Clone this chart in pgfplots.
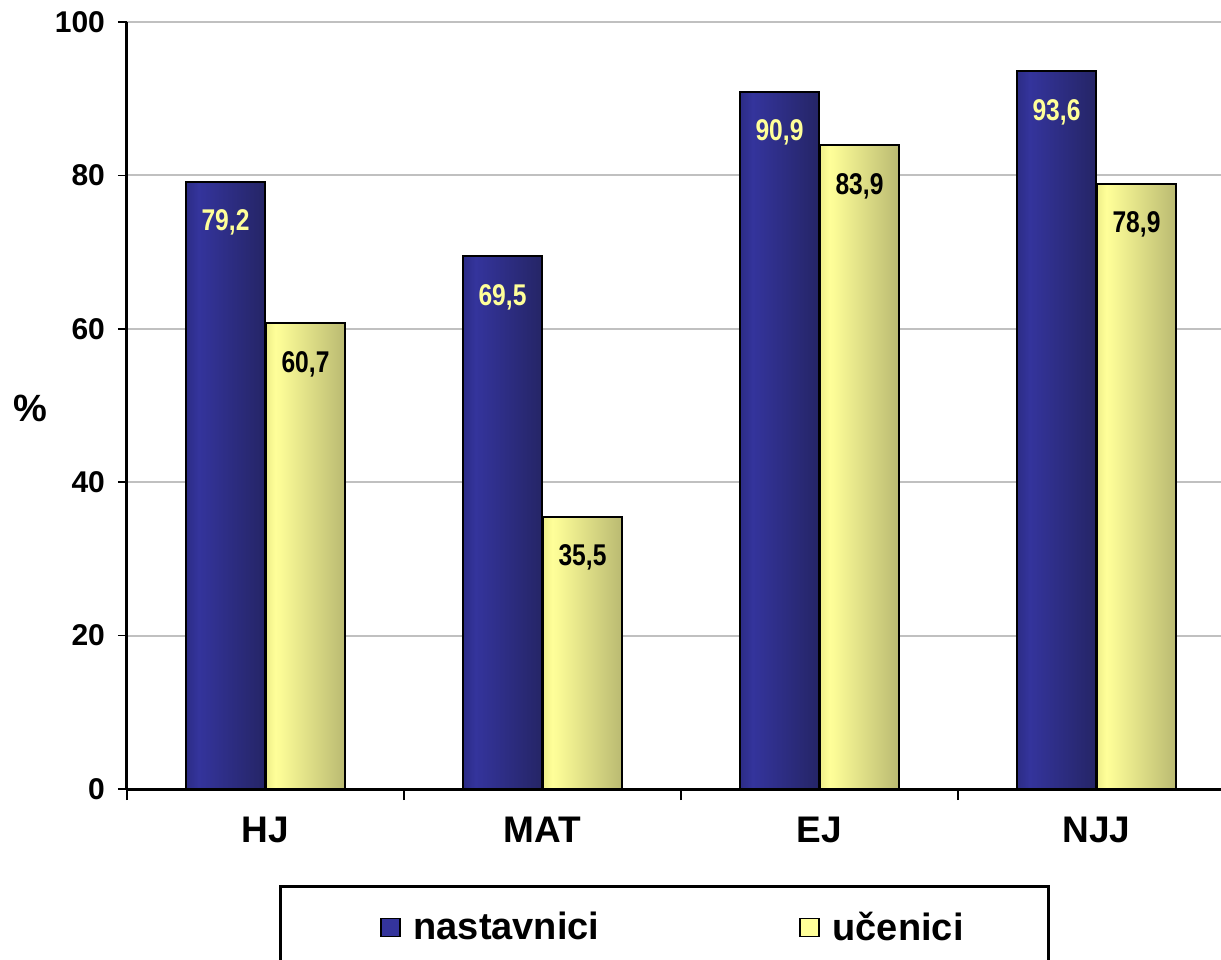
\documentclass[border=0pt]{standalone}
\usepackage{fontspec}
\setmainfont{Liberation Sans}
\newfontfamily\narrowfont{Liberation Sans}[FakeStretch=0.82]
\usepackage{pgfplots}
\pgfplotsset{compat=1.18}
\definecolor{navyA}{HTML}{2C2C86}
\definecolor{navyB}{HTML}{34349C}
\definecolor{navyC}{HTML}{252566}
\definecolor{yelA}{HTML}{EEEE8A}
\definecolor{yelB}{HTML}{FFFF99}
\definecolor{yelC}{HTML}{BABA72}
\definecolor{gridgray}{HTML}{C0C0C0}
\pgfdeclarehorizontalshading{navyshade}{100bp}{color(0bp)=(navyA); color(25bp)=(navyA); color(33bp)=(navyB); color(75bp)=(navyC); color(100bp)=(navyC)}
\pgfdeclarehorizontalshading{yelshade}{100bp}{color(0bp)=(yelA); color(25bp)=(yelA); color(31bp)=(yelB); color(75bp)=(yelC); color(100bp)=(yelC)}
\pgfplotsset{
  barlabel/.style={nodes near coords={\pgfmathprintnumber[use comma,fixed,fixed zerofill,precision=1]{\pgfplotspointmeta}},
    every node near coord/.append style={anchor=center, yshift=-20.5pt, font=\narrowfont\fontsize{15}{18}\selectfont\bfseries}},
  navybar/.style={forget plot, ybar, bar width=39.5pt, bar shift=-20pt, draw=black, line width=1pt, shading=navyshade,
    barlabel, every node near coord/.append style={xshift=-20pt, text=yelB}},
  yelbar/.style={forget plot, ybar, bar width=39.5pt, bar shift=20pt, draw=black, line width=1pt, shading=yelshade,
    barlabel, every node near coord/.append style={xshift=20pt, text=black}},
}
\begin{document}
\begin{tikzpicture}
\begin{axis}[
  at={(63.5pt,85pt)}, anchor=south west,
  scale only axis, width=554pt, height=383.5pt,
  xmin=-0.5, xmax=3.5, ymin=0, ymax=100,
  axis x line*=bottom, axis y line*=left,
  axis line style={line width=1.5pt},
  xtick={0,1,2,3}, xticklabels={HJ,MAT,EJ,NJJ},
  minor xtick={-0.5,0.5,1.5,2.5,3.5},
  major x tick style={draw=none},
  minor x tick style={black, line width=1pt},
  ytick={0,20,40,60,80,100},
  ytick style={black, line width=0.8pt},
  tick align=outside,
  major tick length=4.5pt, minor tick length=5.5pt,
  ymajorgrids, grid style={gridgray, line width=1pt},
  /pgf/number format/assume math mode=true,
  yticklabel style={font=\fontsize{15}{18}\selectfont\bfseries, xshift=-3pt},
  xticklabel style={font=\fontsize{18.5}{22}\selectfont\bfseries, yshift=-6pt},
  ylabel={\%},
  every axis y label/.style={at={(axis description cs:-0.0875,0.4967)}, anchor=center, font=\fontsize{19}{22}\selectfont\bfseries},
  legend columns=2,
  legend style={draw=none, fill=none, inner sep=0pt,
    at={(axis description cs:0.2283,-0.1805)}, anchor=west,
    font=\fontsize{19}{22}\selectfont\bfseries,
    /tikz/every even column/.append style={column sep=98pt}},
  legend image code/.code={\draw[#1, line width=0.8pt] (0pt,-4.5pt) rectangle (9.5pt,4.5pt); \path (14pt,0pt);},
]
\addlegendimage{fill=navyB, draw=black}
\addlegendentry{nastavnici}
\addlegendimage{fill=yelB, draw=black}
\addlegendentry{učenici}
\addplot[navybar] coordinates {(0,79.2)};
\addplot[navybar] coordinates {(1,69.5)};
\addplot[navybar] coordinates {(2,90.9)};
\addplot[navybar] coordinates {(3,93.6)};
\addplot[yelbar] coordinates {(0,60.7)};
\addplot[yelbar] coordinates {(1,35.5)};
\addplot[yelbar] coordinates {(2,83.9)};
\addplot[yelbar] coordinates {(3,78.9)};
\end{axis}
\draw[line width=1.5pt] (140pt,36.5pt) rectangle (524pt,-20pt);
\pgfresetboundingbox
\useasboundingbox (0,0) rectangle (610.5pt,479.5pt);
\end{tikzpicture}
\end{document}
